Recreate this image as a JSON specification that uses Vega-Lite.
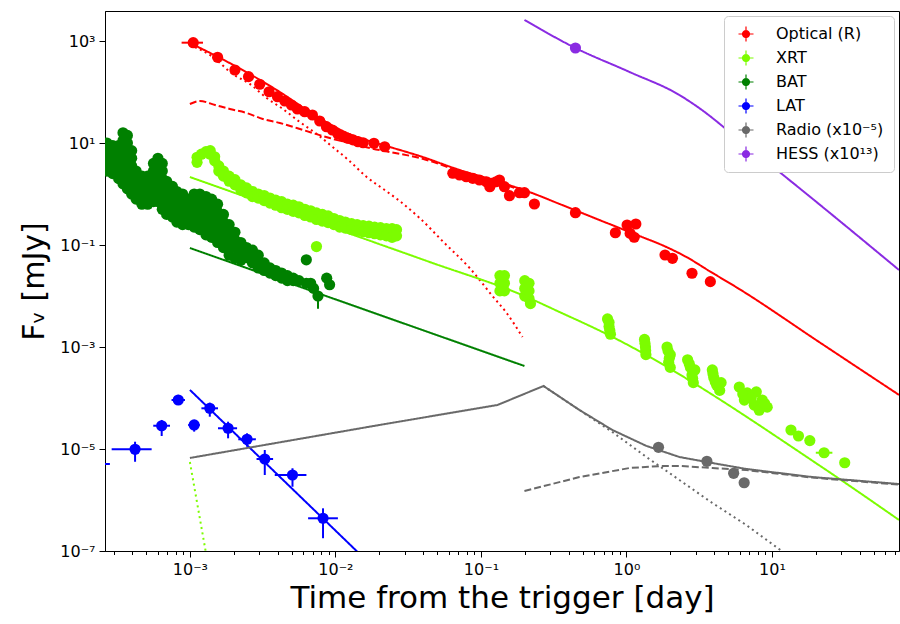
{
"$schema": "https://vega.github.io/schema/vega-lite/v6.json",
"width": 794, "height": 540,
"autosize": {"type": "none"},
"padding": {"left": 105, "top": 11, "right": 1, "bottom": 73},
"background": "white",
"config": {
 "font": "DejaVu Sans",
 "view": {"stroke": "black", "strokeWidth": 1},
 "axis": {"domainColor": "black", "tickColor": "black", "labelColor": "black", "titleColor": "black", "labelFont": "DejaVu Sans", "titleFont": "DejaVu Sans", "titleFontWeight": "normal", "domainWidth": 1, "tickWidth": 1, "grid": false},
 "legend": {"orient": "top-right", "offset": 5, "padding": 10, "symbolOffset": 4, "labelOffset": 22, "rowPadding": 8, "labelFontSize": 16, "labelFont": "DejaVu Sans", "labelColor": "black", "strokeColor": "#cccccc", "fillColor": "white", "cornerRadius": 4, "symbolSize": 225, "symbolStrokeWidth": 0, "symbolOpacity": 1,
  "symbolType": "M-1,-0.08H1V0.08H-1Z M-0.08,-1H0.08V1H-0.08Z M0.55,0A0.55,0.55,0,1,1,-0.55,0A0.55,0.55,0,1,1,0.55,0Z"}
},
"datasets": {
"pts": [
{"s":"Optical (R)","t":1.054e-3,"f":927,"tl":8.77e-4,"th":1.23e-3},
{"s":"Optical (R)","t":1.55e-3,"f":479},
{"s":"Optical (R)","t":2.04e-3,"f":270},
{"s":"Optical (R)","t":2.53e-3,"f":200},
{"s":"Optical (R)","t":3.02e-3,"f":142},
{"s":"Optical (R)","t":3.5e-3,"f":101},
{"s":"Optical (R)","t":4.0e-3,"f":80.9},
{"s":"Optical (R)","t":4.49e-3,"f":66.7},
{"s":"Optical (R)","t":4.99e-3,"f":55.6},
{"s":"Optical (R)","t":5.48e-3,"f":46.5},
{"s":"Optical (R)","t":6.15e-3,"f":41.1},
{"s":"Optical (R)","t":6.95e-3,"f":35.4},
{"s":"Optical (R)","t":7.8e-3,"f":27.0},
{"s":"Optical (R)","t":8.67e-3,"f":20.9},
{"s":"Optical (R)","t":9.53e-3,"f":18.0},
{"s":"Optical (R)","t":1.04e-2,"f":15.0},
{"s":"Optical (R)","t":1.13e-2,"f":13.3},
{"s":"Optical (R)","t":1.22e-2,"f":12.4},
{"s":"Optical (R)","t":1.32e-2,"f":11.5},
{"s":"Optical (R)","t":1.43e-2,"f":10.6},
{"s":"Optical (R)","t":1.55e-2,"f":10.1},
{"s":"Optical (R)","t":1.84e-2,"f":9.86},
{"s":"Optical (R)","t":2.18e-2,"f":8.45},
{"s":"Optical (R)","t":6.41e-2,"f":2.55},
{"s":"Optical (R)","t":7.13e-2,"f":2.36},
{"s":"Optical (R)","t":7.93e-2,"f":2.18},
{"s":"Optical (R)","t":8.79e-2,"f":2.03},
{"s":"Optical (R)","t":9.77e-2,"f":1.88},
{"s":"Optical (R)","t":0.109,"f":1.74},
{"s":"Optical (R)","t":0.118,"f":1.62},
{"s":"Optical (R)","t":0.127,"f":1.74},
{"s":"Optical (R)","t":0.134,"f":1.88},
{"s":"Optical (R)","t":0.115,"f":1.39},
{"s":"Optical (R)","t":0.145,"f":1.39},
{"s":"Optical (R)","t":0.157,"f":0.927},
{"s":"Optical (R)","t":0.184,"f":1.06},
{"s":"Optical (R)","t":0.199,"f":1.06},
{"s":"Optical (R)","t":0.233,"f":0.637},
{"s":"Optical (R)","t":0.446,"f":0.43},
{"s":"Optical (R)","t":0.839,"f":0.174},
{"s":"Optical (R)","t":1.01,"f":0.247},
{"s":"Optical (R)","t":1.16,"f":0.258},
{"s":"Optical (R)","t":1.06,"f":0.169},
{"s":"Optical (R)","t":1.13,"f":0.142},
{"s":"Optical (R)","t":1.84,"f":0.0637},
{"s":"Optical (R)","t":2.07,"f":0.0548},
{"s":"Optical (R)","t":2.82,"f":0.0279},
{"s":"Optical (R)","t":3.77,"f":0.0191},
{"s":"XRT","t":1.12e-3,"f":4.17},{"s":"XRT","t":1.12e-3,"f":5.25},
{"s":"XRT","t":1.20e-3,"f":6.03},
{"s":"XRT","t":1.29e-3,"f":6.76},
{"s":"XRT","t":1.38e-3,"f":7.08},{"s":"XRT","t":1.38e-3,"f":6.03},
{"s":"XRT","t":1.48e-3,"f":5.37},{"s":"XRT","t":1.48e-3,"f":4.47},
{"s":"XRT","t":1.58e-3,"f":3.55},{"s":"XRT","t":1.58e-3,"f":2.82},
{"s":"XRT","t":1.70e-3,"f":2.82},{"s":"XRT","t":1.70e-3,"f":2.24},
{"s":"XRT","t":1.86e-3,"f":2.24},{"s":"XRT","t":1.86e-3,"f":1.78},
{"s":"XRT","t":2.04e-3,"f":1.91},{"s":"XRT","t":2.04e-3,"f":1.51},
{"s":"XRT","t":2.24e-3,"f":1.51},{"s":"XRT","t":2.24e-3,"f":1.20},
{"s":"XRT","t":2.45e-3,"f":1.32},{"s":"XRT","t":2.45e-3,"f":1.05},
{"s":"XRT","t":2.69e-3,"f":1.12},{"s":"XRT","t":2.69e-3,"f":0.891},
{"s":"XRT","t":2.95e-3,"f":1.0},{"s":"XRT","t":2.95e-3,"f":0.832},
{"s":"XRT","t":3.24e-3,"f":0.933},{"s":"XRT","t":3.24e-3,"f":0.741},
{"s":"XRT","t":3.55e-3,"f":0.832},{"s":"XRT","t":3.55e-3,"f":0.661},
{"s":"XRT","t":3.89e-3,"f":0.759},{"s":"XRT","t":3.89e-3,"f":0.603},
{"s":"XRT","t":4.27e-3,"f":0.708},{"s":"XRT","t":4.27e-3,"f":0.537},
{"s":"XRT","t":4.68e-3,"f":0.631},{"s":"XRT","t":4.68e-3,"f":0.501},
{"s":"XRT","t":5.13e-3,"f":0.603},{"s":"XRT","t":5.13e-3,"f":0.457},
{"s":"XRT","t":5.62e-3,"f":0.562},{"s":"XRT","t":5.62e-3,"f":0.427},
{"s":"XRT","t":6.17e-3,"f":0.501},{"s":"XRT","t":6.17e-3,"f":0.380},
{"s":"XRT","t":6.76e-3,"f":0.468},{"s":"XRT","t":6.76e-3,"f":0.355},
{"s":"XRT","t":7.41e-3,"f":0.427},{"s":"XRT","t":7.41e-3,"f":0.316},
{"s":"XRT","t":8.13e-3,"f":0.398},{"s":"XRT","t":8.13e-3,"f":0.295},
{"s":"XRT","t":8.91e-3,"f":0.372},{"s":"XRT","t":8.91e-3,"f":0.275},
{"s":"XRT","t":9.77e-3,"f":0.331},{"s":"XRT","t":9.77e-3,"f":0.251},
{"s":"XRT","t":1.07e-2,"f":0.302},{"s":"XRT","t":1.07e-2,"f":0.224},
{"s":"XRT","t":1.17e-2,"f":0.282},{"s":"XRT","t":1.17e-2,"f":0.214},
{"s":"XRT","t":1.29e-2,"f":0.263},{"s":"XRT","t":1.29e-2,"f":0.2},
{"s":"XRT","t":1.41e-2,"f":0.251},{"s":"XRT","t":1.41e-2,"f":0.191},
{"s":"XRT","t":1.55e-2,"f":0.240},{"s":"XRT","t":1.55e-2,"f":0.182},
{"s":"XRT","t":1.70e-2,"f":0.234},{"s":"XRT","t":1.70e-2,"f":0.174},
{"s":"XRT","t":1.86e-2,"f":0.224},{"s":"XRT","t":1.86e-2,"f":0.166},
{"s":"XRT","t":2.04e-2,"f":0.219},{"s":"XRT","t":2.04e-2,"f":0.158},
{"s":"XRT","t":2.24e-2,"f":0.209},{"s":"XRT","t":2.24e-2,"f":0.151},
{"s":"XRT","t":2.45e-2,"f":0.209},{"s":"XRT","t":2.45e-2,"f":0.141},
{"s":"XRT","t":2.63e-2,"f":0.2},{"s":"XRT","t":2.63e-2,"f":0.151},
{"s":"XRT","t":7.41e-3,"f":0.0933},
{"s":"XRT","t":0.135,"f":0.0251},{"s":"XRT","t":0.135,"f":0.0178},{"s":"XRT","t":0.135,"f":0.0126},
{"s":"XRT","t":0.145,"f":0.0251},{"s":"XRT","t":0.145,"f":0.0178},{"s":"XRT","t":0.145,"f":0.0126},
{"s":"XRT","t":0.14,"f":0.0209},{"s":"XRT","t":0.14,"f":0.0151},
{"s":"XRT","t":0.2,"f":0.02},{"s":"XRT","t":0.2,"f":0.0141},{"s":"XRT","t":0.2,"f":0.01},
{"s":"XRT","t":0.214,"f":0.0178},{"s":"XRT","t":0.214,"f":0.0126},{"s":"XRT","t":0.214,"f":0.00891},
{"s":"XRT","t":0.219,"f":0.00708},
{"s":"XRT","t":0.741,"f":0.00355},{"s":"XRT","t":0.759,"f":0.00251},{"s":"XRT","t":0.776,"f":0.00178},{"s":"XRT","t":0.759,"f":0.00302},{"s":"XRT","t":0.768,"f":0.00211},
{"s":"XRT","t":1.33,"f":0.00141},{"s":"XRT","t":1.35,"f":0.001},{"s":"XRT","t":1.36,"f":0.000708},{"s":"XRT","t":1.34,"f":0.00119},{"s":"XRT","t":1.355,"f":0.00084},
{"s":"XRT","t":1.9,"f":0.001},{"s":"XRT","t":2.0,"f":0.000708},{"s":"XRT","t":1.95,"f":0.000501},{"s":"XRT","t":2.0,"f":0.000398},{"s":"XRT","t":1.93,"f":0.00084},{"s":"XRT","t":1.97,"f":0.0006},
{"s":"XRT","t":2.63,"f":0.000562},{"s":"XRT","t":2.75,"f":0.000398},{"s":"XRT","t":2.82,"f":0.000282},{"s":"XRT","t":2.88,"f":0.0002},{"s":"XRT","t":2.95,"f":0.000355},{"s":"XRT","t":2.7,"f":0.00047},{"s":"XRT","t":2.85,"f":0.00024},
{"s":"XRT","t":3.89,"f":0.000355},{"s":"XRT","t":3.98,"f":0.000251},{"s":"XRT","t":4.17,"f":0.000178},{"s":"XRT","t":4.37,"f":0.000141},{"s":"XRT","t":4.47,"f":0.0002},{"s":"XRT","t":3.93,"f":0.0003},{"s":"XRT","t":4.07,"f":0.00021},
{"s":"XRT","t":5.96,"f":0.000164},{"s":"XRT","t":6.76,"f":0.000126},{"s":"XRT","t":7.8,"f":0.000132},{"s":"XRT","t":8.57,"f":9.12e-5},{"s":"XRT","t":9.27,"f":6.61e-5},
{"s":"XRT","t":6.46,"f":9.12e-5},{"s":"XRT","t":7.55,"f":7.24e-5},{"s":"XRT","t":8.17,"f":5.75e-5},{"s":"XRT","t":6.3,"f":0.00012},{"s":"XRT","t":7.2,"f":0.0001},{"s":"XRT","t":8.9,"f":7.8e-5},
{"s":"XRT","t":13.5,"f":2.36e-5},{"s":"XRT","t":15.2,"f":1.80e-5},{"s":"XRT","t":18.2,"f":1.46e-5},
{"s":"XRT","t":22.8,"f":8.45e-6,"tl":20.0,"th":26.0},{"s":"XRT","t":31.6,"f":5.38e-6},
{"s":"BAT","t":2.69e-4,"f":10},{"s":"BAT","t":2.69e-4,"f":7.41},{"s":"BAT","t":2.69e-4,"f":5.5},{"s":"BAT","t":2.69e-4,"f":3.98},{"s":"BAT","t":2.69e-4,"f":2.82},
{"s":"BAT","t":2.95e-4,"f":8.91},{"s":"BAT","t":2.95e-4,"f":6.31},{"s":"BAT","t":2.95e-4,"f":4.47},{"s":"BAT","t":2.95e-4,"f":3.16},{"s":"BAT","t":2.95e-4,"f":2.51},
{"s":"BAT","t":3.24e-4,"f":8.91},{"s":"BAT","t":3.24e-4,"f":6.31},{"s":"BAT","t":3.24e-4,"f":4.47},{"s":"BAT","t":3.24e-4,"f":3.16},{"s":"BAT","t":3.24e-4,"f":2.51},{"s":"BAT","t":3.24e-4,"f":2.0},
{"s":"BAT","t":3.47e-4,"f":15.85},{"s":"BAT","t":3.47e-4,"f":11.2},{"s":"BAT","t":3.47e-4,"f":7.94},{"s":"BAT","t":3.47e-4,"f":5.62},{"s":"BAT","t":3.47e-4,"f":3.98},{"s":"BAT","t":3.47e-4,"f":2.82},{"s":"BAT","t":3.47e-4,"f":2.0},{"s":"BAT","t":3.47e-4,"f":1.58},
{"s":"BAT","t":3.72e-4,"f":14.1},{"s":"BAT","t":3.72e-4,"f":10},{"s":"BAT","t":3.72e-4,"f":7.08},{"s":"BAT","t":3.72e-4,"f":5.01},{"s":"BAT","t":3.72e-4,"f":3.55},{"s":"BAT","t":3.72e-4,"f":2.51},{"s":"BAT","t":3.72e-4,"f":1.78},{"s":"BAT","t":3.72e-4,"f":1.26},
{"s":"BAT","t":3.98e-4,"f":7.08},{"s":"BAT","t":3.98e-4,"f":5.01},{"s":"BAT","t":3.98e-4,"f":3.55},{"s":"BAT","t":3.98e-4,"f":2.51},{"s":"BAT","t":3.98e-4,"f":1.78},{"s":"BAT","t":3.98e-4,"f":1.26},{"s":"BAT","t":3.98e-4,"f":1.0},
{"s":"BAT","t":4.27e-4,"f":2.82},{"s":"BAT","t":4.27e-4,"f":2.0},{"s":"BAT","t":4.27e-4,"f":1.41},{"s":"BAT","t":4.27e-4,"f":1.0},{"s":"BAT","t":4.27e-4,"f":0.794},
{"s":"BAT","t":4.68e-4,"f":2.24},{"s":"BAT","t":4.68e-4,"f":1.58},{"s":"BAT","t":4.68e-4,"f":1.12},{"s":"BAT","t":4.68e-4,"f":0.832},{"s":"BAT","t":4.68e-4,"f":0.631},
{"s":"BAT","t":5.13e-4,"f":2.24},{"s":"BAT","t":5.13e-4,"f":1.58},{"s":"BAT","t":5.13e-4,"f":1.12},{"s":"BAT","t":5.13e-4,"f":0.832},{"s":"BAT","t":5.13e-4,"f":0.631},
{"s":"BAT","t":5.62e-4,"f":3.98},{"s":"BAT","t":5.62e-4,"f":2.82},{"s":"BAT","t":5.62e-4,"f":2.0},{"s":"BAT","t":5.62e-4,"f":1.41},{"s":"BAT","t":5.62e-4,"f":1.0},{"s":"BAT","t":5.62e-4,"f":0.708},
{"s":"BAT","t":6.03e-4,"f":5.01},{"s":"BAT","t":6.03e-4,"f":3.55},{"s":"BAT","t":6.03e-4,"f":2.51},{"s":"BAT","t":6.03e-4,"f":1.78},{"s":"BAT","t":6.03e-4,"f":1.26},{"s":"BAT","t":6.03e-4,"f":0.933},{"s":"BAT","t":6.03e-4,"f":0.708},
{"s":"BAT","t":6.46e-4,"f":3.98},{"s":"BAT","t":6.46e-4,"f":2.82},{"s":"BAT","t":6.46e-4,"f":2.0},{"s":"BAT","t":6.46e-4,"f":1.41},{"s":"BAT","t":6.46e-4,"f":1.0},{"s":"BAT","t":6.46e-4,"f":0.708},{"s":"BAT","t":6.46e-4,"f":0.501},
{"s":"BAT","t":6.92e-4,"f":1.78},{"s":"BAT","t":6.92e-4,"f":1.26},{"s":"BAT","t":6.92e-4,"f":0.891},{"s":"BAT","t":6.92e-4,"f":0.631},{"s":"BAT","t":6.92e-4,"f":0.501},{"s":"BAT","t":6.92e-4,"f":0.398},
{"s":"BAT","t":7.59e-4,"f":1.41},{"s":"BAT","t":7.59e-4,"f":1.0},{"s":"BAT","t":7.59e-4,"f":0.708},{"s":"BAT","t":7.59e-4,"f":0.501},{"s":"BAT","t":7.59e-4,"f":0.355},
{"s":"BAT","t":8.13e-4,"f":1.12},{"s":"BAT","t":8.13e-4,"f":0.794},{"s":"BAT","t":8.13e-4,"f":0.562},{"s":"BAT","t":8.13e-4,"f":0.398},{"s":"BAT","t":8.13e-4,"f":0.282},
{"s":"BAT","t":8.91e-4,"f":1.0},{"s":"BAT","t":8.91e-4,"f":0.708},{"s":"BAT","t":8.91e-4,"f":0.501},{"s":"BAT","t":8.91e-4,"f":0.355},{"s":"BAT","t":8.91e-4,"f":0.251},
{"s":"BAT","t":9.77e-4,"f":0.794},{"s":"BAT","t":9.77e-4,"f":0.589},{"s":"BAT","t":9.77e-4,"f":0.447},{"s":"BAT","t":9.77e-4,"f":0.331},{"s":"BAT","t":9.77e-4,"f":0.251},
{"s":"BAT","t":1.07e-3,"f":1.0},{"s":"BAT","t":1.07e-3,"f":0.708},{"s":"BAT","t":1.07e-3,"f":0.501},{"s":"BAT","t":1.07e-3,"f":0.355},{"s":"BAT","t":1.07e-3,"f":0.251},{"s":"BAT","t":1.07e-3,"f":0.224},
{"s":"BAT","t":1.17e-3,"f":1.0},{"s":"BAT","t":1.17e-3,"f":0.708},{"s":"BAT","t":1.17e-3,"f":0.501},{"s":"BAT","t":1.17e-3,"f":0.355},{"s":"BAT","t":1.17e-3,"f":0.251},{"s":"BAT","t":1.17e-3,"f":0.2},
{"s":"BAT","t":1.29e-3,"f":0.891},{"s":"BAT","t":1.29e-3,"f":0.631},{"s":"BAT","t":1.29e-3,"f":0.447},{"s":"BAT","t":1.29e-3,"f":0.316},{"s":"BAT","t":1.29e-3,"f":0.224},{"s":"BAT","t":1.29e-3,"f":0.158},
{"s":"BAT","t":1.41e-3,"f":0.794},{"s":"BAT","t":1.41e-3,"f":0.562},{"s":"BAT","t":1.41e-3,"f":0.398},{"s":"BAT","t":1.41e-3,"f":0.282},{"s":"BAT","t":1.41e-3,"f":0.2},{"s":"BAT","t":1.41e-3,"f":0.141},
{"s":"BAT","t":1.55e-3,"f":0.631},{"s":"BAT","t":1.55e-3,"f":0.447},{"s":"BAT","t":1.55e-3,"f":0.316},{"s":"BAT","t":1.55e-3,"f":0.224},{"s":"BAT","t":1.55e-3,"f":0.158},{"s":"BAT","t":1.55e-3,"f":0.112},
{"s":"BAT","t":1.70e-3,"f":0.398},{"s":"BAT","t":1.70e-3,"f":0.282},{"s":"BAT","t":1.70e-3,"f":0.2},{"s":"BAT","t":1.70e-3,"f":0.141},{"s":"BAT","t":1.70e-3,"f":0.1},{"s":"BAT","t":1.70e-3,"f":0.0891},
{"s":"BAT","t":1.86e-3,"f":0.251},{"s":"BAT","t":1.86e-3,"f":0.178},{"s":"BAT","t":1.86e-3,"f":0.126},{"s":"BAT","t":1.86e-3,"f":0.0891},{"s":"BAT","t":1.86e-3,"f":0.0631},
{"s":"BAT","t":2.04e-3,"f":0.178},{"s":"BAT","t":2.04e-3,"f":0.126},{"s":"BAT","t":2.04e-3,"f":0.0891},{"s":"BAT","t":2.04e-3,"f":0.0562},
{"s":"BAT","t":2.24e-3,"f":0.112},{"s":"BAT","t":2.24e-3,"f":0.0794},{"s":"BAT","t":2.24e-3,"f":0.0501},
{"s":"BAT","t":2.45e-3,"f":0.0891},{"s":"BAT","t":2.45e-3,"f":0.0708},{"s":"BAT","t":2.45e-3,"f":0.0562},
{"s":"BAT","t":2.69e-3,"f":0.0794},{"s":"BAT","t":2.69e-3,"f":0.0603},{"s":"BAT","t":2.69e-3,"f":0.0447},
{"s":"BAT","t":2.95e-3,"f":0.0631},{"s":"BAT","t":2.95e-3,"f":0.0479},{"s":"BAT","t":2.95e-3,"f":0.0355},
{"s":"BAT","t":3.24e-3,"f":0.0447},{"s":"BAT","t":3.24e-3,"f":0.0316},
{"s":"BAT","t":3.55e-3,"f":0.0355},{"s":"BAT","t":3.55e-3,"f":0.0282},
{"s":"BAT","t":3.89e-3,"f":0.0316},{"s":"BAT","t":3.89e-3,"f":0.0251},
{"s":"BAT","t":4.27e-3,"f":0.0282},{"s":"BAT","t":4.27e-3,"f":0.0224},
{"s":"BAT","t":4.68e-3,"f":0.0251},{"s":"BAT","t":4.68e-3,"f":0.02},
{"s":"BAT","t":5.13e-3,"f":0.0224},{"s":"BAT","t":5.13e-3,"f":0.02},
{"s":"BAT","t":5.62e-3,"f":0.02},
{"s":"BAT","t":6.31e-3,"f":0.0513},{"s":"BAT","t":6.31e-3,"f":0.0178},
{"s":"BAT","t":6.76e-3,"f":0.0178},
{"s":"BAT","t":7.08e-3,"f":0.0141},
{"s":"BAT","t":7.59e-3,"f":0.01,"fl":0.00562,"fh":0.0126},
{"s":"BAT","t":8.71e-3,"f":0.0224},
{"s":"BAT","t":9.12e-3,"f":0.0166},
{"s":"LAT","t":2.0e-4,"f":5.08e-6,"tl":1.4e-4,"th":2.82e-4,"fl":4.5e-6,"fh":5.7e-6},
{"s":"LAT","t":4.2e-4,"f":9.86e-6,"tl":2.9e-4,"th":5.46e-4,"fl":5.62e-6,"fh":1.39e-5},
{"s":"LAT","t":6.4e-4,"f":2.86e-5,"tl":5.6e-4,"th":7.3e-4,"fl":1.8e-5,"fh":3.71e-5},
{"s":"LAT","t":8.32e-4,"f":9.14e-5,"tl":7.48e-4,"th":9.25e-4,"fl":7.3e-5,"fh":1.15e-4},
{"s":"LAT","t":1.07e-3,"f":2.96e-5,"tl":9.73e-4,"th":1.17e-3,"fl":2.19e-5,"fh":3.71e-5},
{"s":"LAT","t":1.37e-3,"f":6.28e-5,"tl":1.2e-3,"th":1.56e-3,"fl":4.3e-5,"fh":8.09e-5},
{"s":"LAT","t":1.83e-3,"f":2.55e-5,"tl":1.56e-3,"th":2.11e-3,"fl":1.62e-5,"fh":3.43e-5},
{"s":"LAT","t":2.47e-3,"f":1.55e-5,"tl":2.15e-3,"th":2.84e-3,"fl":1.11e-5,"fh":2.03e-5},
{"s":"LAT","t":3.27e-3,"f":6.37e-6,"tl":2.87e-3,"th":3.73e-3,"fl":3.09e-6,"fh":9.55e-6},
{"s":"LAT","t":5.07e-3,"f":3.09e-6,"tl":3.83e-3,"th":6.32e-3,"fl":1.82e-6,"fh":4.19e-6},
{"s":"LAT","t":8.22e-3,"f":4.38e-7,"tl":6.49e-3,"th":1.04e-2,"fl":1.78e-7,"fh":6.87e-7},
{"s":"Radio (x10⁻⁵)","t":1.66,"f":1.08e-5},
{"s":"Radio (x10⁻⁵)","t":3.57,"f":5.74e-6},
{"s":"Radio (x10⁻⁵)","t":5.45,"f":3.34e-6},
{"s":"Radio (x10⁻⁵)","t":6.44,"f":2.18e-6},
{"s":"HESS (x10¹³)","t":0.446,"f":729,"tl":0.43,"th":0.462,"fl":680,"fh":780}
],
"mod": [
{"m":"Optical (R)","k":"r1","st":"solid","t":1e-3,"f":914},
{"m":"Optical (R)","k":"r1","st":"solid","t":1.61e-3,"f":465},
{"m":"Optical (R)","k":"r1","st":"solid","t":2.58e-3,"f":225},
{"m":"Optical (R)","k":"r1","st":"solid","t":4.15e-3,"f":100},
{"m":"Optical (R)","k":"r1","st":"solid","t":6.67e-3,"f":40.6},
{"m":"Optical (R)","k":"r1","st":"solid","t":9.14e-3,"f":23.6},
{"m":"Optical (R)","k":"r1","st":"solid","t":1.25e-2,"f":15.0},
{"m":"Optical (R)","k":"r1","st":"solid","t":1.72e-2,"f":10.9},
{"m":"Optical (R)","k":"r1","st":"solid","t":2.36e-2,"f":8.36},
{"m":"Optical (R)","k":"r1","st":"solid","t":3.79e-2,"f":5.56},
{"m":"Optical (R)","k":"r1","st":"solid","t":7.13e-2,"f":2.96},
{"m":"Optical (R)","k":"r1","st":"solid","t":0.134,"f":1.72},
{"m":"Optical (R)","k":"r1","st":"solid","t":0.216,"f":1.09},
{"m":"Optical (R)","k":"r1","st":"solid","t":0.347,"f":0.637},
{"m":"Optical (R)","k":"r1","st":"solid","t":0.652,"f":0.309},
{"m":"Optical (R)","k":"r1","st":"solid","t":1.23,"f":0.15},
{"m":"Optical (R)","k":"r1","st":"solid","t":1.88,"f":0.0914},
{"m":"Optical (R)","k":"r1","st":"solid","t":2.58,"f":0.0582},
{"m":"Optical (R)","k":"r1","st":"solid","t":3.71,"f":0.0309},
{"m":"Optical (R)","k":"r1","st":"solid","t":5.96,"f":0.0137},
{"m":"Optical (R)","k":"r1","st":"solid","t":21.1,"f":1.25e-3},
{"m":"Optical (R)","k":"r1","st":"solid","t":74.6,"f":1.15e-4},
{"m":"Optical (R)","k":"r2","st":"dotted","t":1e-3,"f":836},
{"m":"Optical (R)","k":"r2","st":"dotted","t":1.44e-3,"f":485},
{"m":"Optical (R)","k":"r2","st":"dotted","t":1.97e-3,"f":225},
{"m":"Optical (R)","k":"r2","st":"dotted","t":2.58e-3,"f":144},
{"m":"Optical (R)","k":"r2","st":"dotted","t":3.37e-3,"f":76.2},
{"m":"Optical (R)","k":"r2","st":"dotted","t":4.35e-3,"f":46.5},
{"m":"Optical (R)","k":"r2","st":"dotted","t":5.69e-3,"f":25.8},
{"m":"Optical (R)","k":"r2","st":"dotted","t":7.45e-3,"f":15.0},
{"m":"Optical (R)","k":"r2","st":"dotted","t":9.57e-3,"f":8.36},
{"m":"Optical (R)","k":"r2","st":"dotted","t":1.25e-2,"f":4.44},
{"m":"Optical (R)","k":"r2","st":"dotted","t":1.64e-2,"f":2.15},
{"m":"Optical (R)","k":"r2","st":"dotted","t":2.18e-2,"f":1.2},
{"m":"Optical (R)","k":"r2","st":"dotted","t":2.76e-2,"f":0.73},
{"m":"Optical (R)","k":"r2","st":"dotted","t":3.79e-2,"f":0.338},
{"m":"Optical (R)","k":"r2","st":"dotted","t":5.62e-2,"f":0.109},
{"m":"Optical (R)","k":"r2","st":"dotted","t":8.36e-2,"f":0.0354},
{"m":"Optical (R)","k":"r2","st":"dotted","t":0.12,"f":0.01},
{"m":"Optical (R)","k":"r2","st":"dotted","t":0.15,"f":4.65e-3},
{"m":"Optical (R)","k":"r2","st":"dotted","t":0.193,"f":1.57e-3},
{"m":"Optical (R)","k":"r3","st":"dashed","t":1e-3,"f":58.2},
{"m":"Optical (R)","k":"r3","st":"dashed","t":1.17e-3,"f":66.7},
{"m":"Optical (R)","k":"r3","st":"dashed","t":1.49e-3,"f":55.6},
{"m":"Optical (R)","k":"r3","st":"dashed","t":1.88e-3,"f":46.5},
{"m":"Optical (R)","k":"r3","st":"dashed","t":2.46e-3,"f":38.7},
{"m":"Optical (R)","k":"r3","st":"dashed","t":3.17e-3,"f":29.6},
{"m":"Optical (R)","k":"r3","st":"dashed","t":4.15e-3,"f":24.7},
{"m":"Optical (R)","k":"r3","st":"dashed","t":5.42e-3,"f":19.7},
{"m":"Optical (R)","k":"r3","st":"dashed","t":6.98e-3,"f":15.7},
{"m":"Optical (R)","k":"r3","st":"dashed","t":9.14e-3,"f":12.5},
{"m":"Optical (R)","k":"r3","st":"dashed","t":1.25e-2,"f":10},
{"m":"Optical (R)","k":"r3","st":"dashed","t":1.72e-2,"f":7.98},
{"m":"Optical (R)","k":"r3","st":"dashed","t":2.36e-2,"f":6.67},
{"m":"Optical (R)","k":"r3","st":"dashed","t":3.79e-2,"f":5.08},
{"m":"Optical (R)","k":"r3","st":"dashed","t":7.13e-2,"f":2.82},
{"m":"Optical (R)","k":"r3","st":"dashed","t":0.134,"f":1.64},
{"m":"Optical (R)","k":"r3","st":"dashed","t":0.199,"f":1.15},
{"m":"XRT","k":"x1","st":"solid","t":1e-3,"f":2.15},
{"m":"XRT","k":"x1","st":"solid","t":5.69e-3,"f":0.371},
{"m":"XRT","k":"x1","st":"solid","t":4.44e-2,"f":0.0465},
{"m":"XRT","k":"x1","st":"solid","t":0.199,"f":0.01},
{"m":"XRT","k":"x1","st":"solid","t":0.347,"f":4.85e-3},
{"m":"XRT","k":"x1","st":"solid","t":0.684,"f":1.97e-3},
{"m":"XRT","k":"x1","st":"solid","t":23.6,"f":3.87e-6},
{"m":"XRT","k":"x1","st":"solid","t":74.6,"f":4.06e-7},
{"m":"XRT","k":"x2","st":"dotted","t":1e-3,"f":5.56e-6},
{"m":"XRT","k":"x2","st":"dotted","t":1.3e-3,"f":8e-8},
{"m":"BAT","k":"b1","st":"solid","t":1e-3,"f":0.0873},
{"m":"BAT","k":"b1","st":"solid","t":0.199,"f":4.24e-4},
{"m":"LAT","k":"l1","st":"solid","t":1e-3,"f":1.44e-4},
{"m":"LAT","k":"l1","st":"solid","t":1.52e-2,"f":7.94e-8},
{"m":"Radio (x10⁻⁵)","k":"g1","st":"solid","t":1e-3,"f":6.67e-6},
{"m":"Radio (x10⁻⁵)","k":"g1","st":"solid","t":2.01e-2,"f":2.96e-5},
{"m":"Radio (x10⁻⁵)","k":"g1","st":"solid","t":0.13,"f":7.3e-5},
{"m":"Radio (x10⁻⁵)","k":"g1","st":"solid","t":0.269,"f":1.72e-4},
{"m":"Radio (x10⁻⁵)","k":"g1","st":"solid","t":0.475,"f":5.82e-5},
{"m":"Radio (x10⁻⁵)","k":"g1","st":"solid","t":0.8,"f":2.36e-5},
{"m":"Radio (x10⁻⁵)","k":"g1","st":"solid","t":1.37,"f":1.15e-5},
{"m":"Radio (x10⁻⁵)","k":"g1","st":"solid","t":2.31,"f":6.97e-6},
{"m":"Radio (x10⁻⁵)","k":"g1","st":"solid","t":3.89,"f":5.31e-6},
{"m":"Radio (x10⁻⁵)","k":"g1","st":"solid","t":6.65,"f":4.06e-6},
{"m":"Radio (x10⁻⁵)","k":"g1","st":"solid","t":18.9,"f":2.82e-6},
{"m":"Radio (x10⁻⁵)","k":"g1","st":"solid","t":74.6,"f":2.06e-6},
{"m":"Radio (x10⁻⁵)","k":"g2","st":"dashed","t":0.199,"f":1.5e-6},
{"m":"Radio (x10⁻⁵)","k":"g2","st":"dashed","t":0.475,"f":2.82e-6},
{"m":"Radio (x10⁻⁵)","k":"g2","st":"dashed","t":1.05,"f":4.24e-6},
{"m":"Radio (x10⁻⁵)","k":"g2","st":"dashed","t":1.76,"f":4.65e-6},
{"m":"Radio (x10⁻⁵)","k":"g2","st":"dashed","t":2.31,"f":4.65e-6},
{"m":"Radio (x10⁻⁵)","k":"g2","st":"dashed","t":3.89,"f":4.24e-6},
{"m":"Radio (x10⁻⁵)","k":"g2","st":"dashed","t":6.65,"f":3.87e-6},
{"m":"Radio (x10⁻⁵)","k":"g2","st":"dashed","t":18.9,"f":2.75e-6},
{"m":"Radio (x10⁻⁵)","k":"g2","st":"dashed","t":74.6,"f":2.0e-6},
{"m":"Radio (x10⁻⁵)","k":"g3","st":"dotted","t":0.269,"f":1.72e-4},
{"m":"Radio (x10⁻⁵)","k":"g3","st":"dotted","t":0.475,"f":5.82e-5},
{"m":"Radio (x10⁻⁵)","k":"g3","st":"dotted","t":0.8,"f":2.15e-5},
{"m":"Radio (x10⁻⁵)","k":"g3","st":"dotted","t":1.37,"f":6.97e-6},
{"m":"Radio (x10⁻⁵)","k":"g3","st":"dotted","t":2.31,"f":2.47e-6},
{"m":"Radio (x10⁻⁵)","k":"g3","st":"dotted","t":3.89,"f":8.73e-7},
{"m":"Radio (x10⁻⁵)","k":"g3","st":"dotted","t":6.65,"f":3.24e-7},
{"m":"Radio (x10⁻⁵)","k":"g3","st":"dotted","t":11.2,"f":1.09e-7},
{"m":"Radio (x10⁻⁵)","k":"g3","st":"dotted","t":12.1,"f":9.1e-8},
{"m":"HESS (x10¹³)","k":"h1","st":"solid","t":0.199,"f":2582},
{"m":"HESS (x10¹³)","k":"h1","st":"solid","t":0.446,"f":729},
{"m":"HESS (x10¹³)","k":"h1","st":"solid","t":1.05,"f":247},
{"m":"HESS (x10¹³)","k":"h1","st":"solid","t":2.31,"f":87.3},
{"m":"HESS (x10¹³)","k":"h1","st":"solid","t":3.16,"f":48.5},
{"m":"HESS (x10¹³)","k":"h1","st":"solid","t":5.96,"f":11.5},
{"m":"HESS (x10¹³)","k":"h1","st":"solid","t":15.4,"f":1.31},
{"m":"HESS (x10¹³)","k":"h1","st":"solid","t":74.6,"f":0.0324}
]
},
"layer": [
{
 "data": {"name": "pts"},
 "mark": {"type": "circle", "size": 125, "opacity": 1, "clip": true},
 "encoding": {
  "x": {"field": "t", "type": "quantitative", "scale": {"type": "log", "domain": [2.61e-4, 74.6], "nice": false},
   "axis": {"title": "Time from the trigger [day]",
    "values": [3e-4,4e-4,5e-4,6e-4,7e-4,8e-4,9e-4,1e-3,2e-3,3e-3,4e-3,5e-3,6e-3,7e-3,8e-3,9e-3,1e-2,2e-2,3e-2,4e-2,5e-2,6e-2,7e-2,8e-2,9e-2,0.1,0.2,0.3,0.4,0.5,0.6,0.7,0.8,0.9,1,2,3,4,5,6,7,8,9,10,20,30,40,50,60,70],
    "labelExpr": "abs(log(datum.value)/LN10 - round(log(datum.value)/LN10)) < 0.001 ? '10' + replace(replace(replace(replace(replace(replace(replace(replace(replace(''+round(log(datum.value)/LN10),'-','⁻'),'0','⁰'),'1','¹'),'2','²'),'3','³'),'4','⁴'),'5','⁵'),'6','⁶'),'7','⁷') : ''",
    "tickSize": {"condition": {"test": "abs(log(datum.value)/LN10 - round(log(datum.value)/LN10)) < 0.001", "value": 6}, "value": 3.5},
    "labelOverlap": false, "labelFlush": false, "labelFontSize": 16, "titleFontSize": 31, "labelPadding": 4, "titlePadding": 6}},
  "y": {"field": "f", "type": "quantitative", "scale": {"type": "log", "domain": [1e-7, 3875], "nice": false},
   "axis": {"title": "Fᵥ [mJy]", "values": [1e-7,1e-5,1e-3,0.1,10,1000],
    "labelExpr": "'10' + replace(replace(replace(replace(replace(replace(replace(replace(replace(''+round(log(datum.value)/LN10),'-','⁻'),'0','⁰'),'1','¹'),'2','²'),'3','³'),'4','⁴'),'5','⁵'),'6','⁶'),'7','⁷')",
    "tickSize": 6, "labelOverlap": false, "labelFontSize": 16, "titleFontSize": 30, "labelPadding": 4, "titlePadding": 10}},
  "color": {"field": "s", "type": "nominal",
   "scale": {"domain": ["Optical (R)", "XRT", "BAT", "LAT", "Radio (x10⁻⁵)", "HESS (x10¹³)"], "range": ["#ff0000", "#7cfc00", "#008000", "#0000ff", "#696969", "#8a2be2"]},
   "legend": {"title": null}}
 }
},
{
 "data": {"name": "pts"},
 "transform": [{"filter": "isValid(datum.tl)"}],
 "mark": {"type": "rule", "strokeWidth": 2, "clip": true},
 "encoding": {
  "x": {"field": "tl", "type": "quantitative", "scale": {"type": "log", "domain": [2.61e-4, 74.6], "nice": false}},
  "x2": {"field": "th"},
  "y": {"field": "f", "type": "quantitative", "scale": {"type": "log", "domain": [1e-7, 3875], "nice": false}},
  "stroke": {"field": "s", "type": "nominal",
   "scale": {"domain": ["Optical (R)", "XRT", "BAT", "LAT", "Radio (x10⁻⁵)", "HESS (x10¹³)"], "range": ["#ff0000", "#7cfc00", "#008000", "#0000ff", "#696969", "#8a2be2"]},
   "legend": null}
 }
},
{
 "data": {"name": "pts"},
 "transform": [{"filter": "isValid(datum.fl)"}],
 "mark": {"type": "rule", "strokeWidth": 2, "clip": true},
 "encoding": {
  "x": {"field": "t", "type": "quantitative", "scale": {"type": "log", "domain": [2.61e-4, 74.6], "nice": false}},
  "y": {"field": "fl", "type": "quantitative", "scale": {"type": "log", "domain": [1e-7, 3875], "nice": false}},
  "y2": {"field": "fh"},
  "stroke": {"field": "s", "type": "nominal",
   "scale": {"domain": ["Optical (R)", "XRT", "BAT", "LAT", "Radio (x10⁻⁵)", "HESS (x10¹³)"], "range": ["#ff0000", "#7cfc00", "#008000", "#0000ff", "#696969", "#8a2be2"]},
   "legend": null}
 }
},
{
 "data": {"name": "mod"},
 "transform": [{"filter": "indexof(['g1','g2','g3'], datum.k) < 0"}],
 "mark": {"type": "line", "strokeWidth": 2, "clip": true, "interpolate": "monotone"},
 "encoding": {
  "x": {"field": "t", "type": "quantitative", "scale": {"type": "log", "domain": [2.61e-4, 74.6], "nice": false}},
  "y": {"field": "f", "type": "quantitative", "scale": {"type": "log", "domain": [1e-7, 3875], "nice": false}},
  "detail": {"field": "k"},
  "stroke": {"field": "m", "type": "nominal",
   "scale": {"domain": ["Optical (R)", "XRT", "BAT", "LAT", "Radio (x10⁻⁵)", "HESS (x10¹³)"], "range": ["#ff0000", "#7cfc00", "#008000", "#0000ff", "#696969", "#8a2be2"]},
   "legend": null},
  "strokeDash": {"field": "st", "type": "nominal", "scale": {"domain": ["solid", "dashed", "dotted"], "range": [[1, 0], [7, 3], [2, 3.5]]}, "legend": null}
 }
},
{
 "data": {"name": "mod"},
 "transform": [{"filter": "indexof(['g1','g2','g3'], datum.k) >= 0"}],
 "mark": {"type": "line", "strokeWidth": 2, "clip": true, "interpolate": "linear"},
 "encoding": {
  "x": {"field": "t", "type": "quantitative", "scale": {"type": "log", "domain": [2.61e-4, 74.6], "nice": false}},
  "y": {"field": "f", "type": "quantitative", "scale": {"type": "log", "domain": [1e-7, 3875], "nice": false}},
  "detail": {"field": "k"},
  "stroke": {"field": "m", "type": "nominal",
   "scale": {"domain": ["Optical (R)", "XRT", "BAT", "LAT", "Radio (x10⁻⁵)", "HESS (x10¹³)"], "range": ["#ff0000", "#7cfc00", "#008000", "#0000ff", "#696969", "#8a2be2"]},
   "legend": null},
  "strokeDash": {"field": "st", "type": "nominal", "scale": {"domain": ["solid", "dashed", "dotted"], "range": [[1, 0], [7, 3], [2, 3.5]]}, "legend": null}
 }
}
]
}
